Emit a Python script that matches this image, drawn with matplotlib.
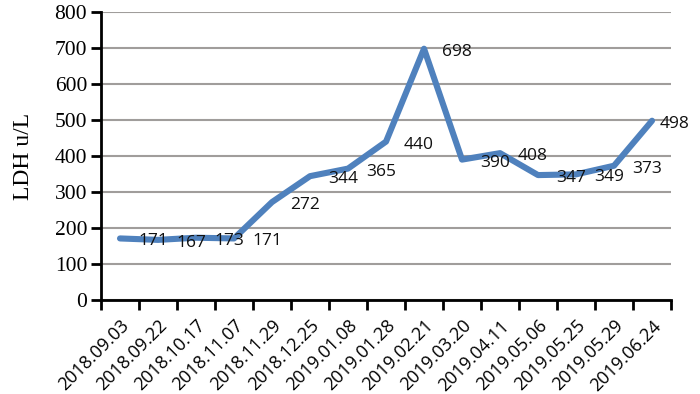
import matplotlib
matplotlib.use("Agg")
import matplotlib.pyplot as plt
import numpy as np

dates = ["2018.09.03", "2018.09.22", "2018.10.17", "2018.11.07", "2018.11.29",
         "2018.12.25", "2019.01.08", "2019.01.28", "2019.02.21", "2019.03.20",
         "2019.04.11", "2019.05.06", "2019.05.25", "2019.05.29", "2019.06.24"]
ldh = [171, 167, 173, 171, 272, 344, 365, 440, 698, 390, 408, 347, 349, 373, 498]
yticks = [0, 100, 200, 300, 400, 500, 600, 700, 800]

fig = plt.figure(figsize=(7.0, 3.94), dpi=100)
ax = fig.add_axes([0.1443, 0.2386, 0.8143, 0.7309])

x = np.arange(len(dates)) + 0.5
ax.plot(x, ldh, color="#4f81bd", lw=4.4, solid_capstyle="round",
        solid_joinstyle="round", zorder=3)

for i, (xi, v) in enumerate(zip(x, ldh)):
    dx = 23 if i == len(ldh) - 1 else 33
    ax.annotate(str(v), (xi, v), xytext=(dx, -3), textcoords="offset pixels",
                ha="center", va="center", fontsize=12.5, family="Open Sans",
                color="#111111", zorder=4)

ax.set_xlim(0, len(dates))
ax.set_ylim(0, 800)
ax.set_yticks(yticks)
ax.set_yticklabels([str(t) for t in yticks], family="Liberation Serif", fontsize=15.5)
ax.yaxis.grid(True, color="#a09d9b", lw=1.5)
ax.set_axisbelow(True)

ax.set_xticks(np.arange(len(dates) + 1))
ax.set_xticklabels([])
ax.set_xticks(x, minor=True)
ax.set_xticklabels(dates, minor=True, rotation=45, ha="right",
                   rotation_mode="anchor", family="Open Sans", fontsize=13)
ax.tick_params(axis="x", which="minor", length=0, pad=12)
ax.tick_params(axis="x", which="major", length=7, width=2, direction="out")
ax.tick_params(axis="y", length=7, width=2, direction="out", pad=3)

for s in ["top", "right"]:
    ax.spines[s].set_visible(False)
for s in ["left", "bottom"]:
    ax.spines[s].set_linewidth(2)
    ax.spines[s].set_color("black")

ax.set_ylabel("LDH u/L", family="Liberation Serif", fontsize=17, labelpad=15)

fig.savefig("out.png", dpi=100)
